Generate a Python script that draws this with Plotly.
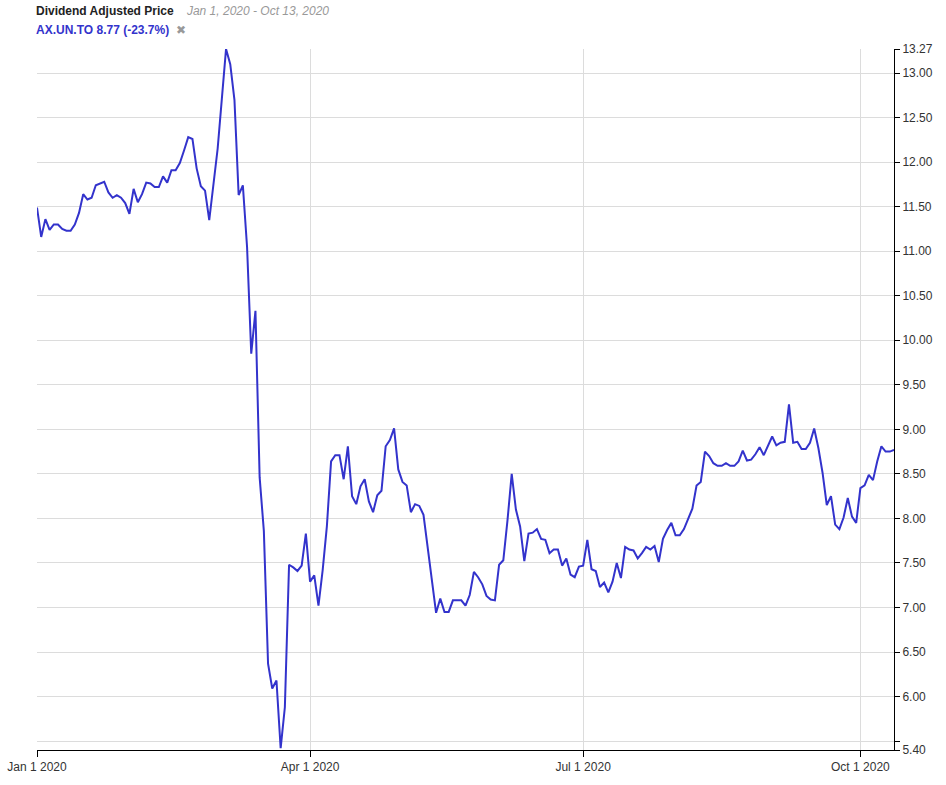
import plotly.graph_objects as go
import pandas as pd

# trading-day values (weekdays Jan 1 2020 .. Oct 13 2020)
dates = pd.bdate_range("2020-01-01", "2020-10-13")
prices = [
    11.49, 11.16, 11.36, 11.24, 11.30, 11.30, 11.25, 11.23, 11.23, 11.30,
    11.43, 11.64, 11.58, 11.60, 11.74, 11.76, 11.78, 11.66, 11.60, 11.63,
    11.60, 11.54, 11.42, 11.70, 11.55, 11.64, 11.77, 11.76, 11.72, 11.72,
    11.84, 11.77, 11.91, 11.91, 11.99, 12.13, 12.28, 12.26, 11.93, 11.73,
    11.68, 11.35, 11.73, 12.15, 12.71, 13.27, 13.10, 12.70, 11.63, 11.74,
    11.05, 9.85, 10.33, 8.46, 7.86, 6.37, 6.09, 6.18, 5.42, 5.88,
    7.48, 7.45, 7.41, 7.47, 7.83, 7.29, 7.36, 7.02, 7.42, 7.91,
    8.64, 8.71, 8.71, 8.44, 8.81, 8.25, 8.16, 8.36, 8.44, 8.19,
    8.07, 8.26, 8.31, 8.81, 8.88, 9.01, 8.55, 8.41, 8.37, 8.07,
    8.16, 8.14, 8.04, 7.68, 7.33, 6.94, 7.10, 6.95, 6.95, 7.08,
    7.08, 7.08, 7.02, 7.14, 7.40, 7.34, 7.26, 7.13, 7.09, 7.08,
    7.48, 7.53, 7.98, 8.50, 8.10, 7.91, 7.52, 7.83, 7.84, 7.88,
    7.77, 7.76, 7.61, 7.65, 7.65, 7.47, 7.55, 7.37, 7.34, 7.46,
    7.47, 7.76, 7.43, 7.41, 7.23, 7.28, 7.17, 7.29, 7.50, 7.33,
    7.68, 7.65, 7.64, 7.55, 7.61, 7.68, 7.65, 7.69, 7.51, 7.77,
    7.87, 7.95, 7.81, 7.81, 7.88, 8.00, 8.11, 8.37, 8.41, 8.75,
    8.70, 8.62, 8.59, 8.59, 8.62, 8.59, 8.59, 8.64, 8.76, 8.65,
    8.66, 8.72, 8.80, 8.71, 8.81, 8.92, 8.82, 8.85, 8.86, 9.28,
    8.85, 8.86, 8.78, 8.78, 8.85, 9.01, 8.79, 8.51, 8.15, 8.25,
    7.93, 7.88, 8.01, 8.23, 8.02, 7.95, 8.34, 8.37, 8.49, 8.43,
    8.64, 8.81, 8.75, 8.75, 8.77,
]

x_tick_dates = ["2020-01-01", "2020-04-01", "2020-07-01", "2020-10-01"]
x_tick_labels = ["Jan 1 2020", "Apr 1 2020", "Jul 1 2020", "Oct 1 2020"]
y_tick_vals = [5.40, 5.50, 6.00, 6.50, 7.00, 7.50, 8.00, 8.50, 9.00, 9.50,
               10.00, 10.50, 11.00, 11.50, 12.00, 12.50, 13.00, 13.27]
y_tick_labels = ["5.40", "", "6.00", "6.50", "7.00", "7.50", "8.00", "8.50", "9.00", "9.50",
                 "10.00", "10.50", "11.00", "11.50", "12.00", "12.50", "13.00", "13.27"]

line_color = "#3333cc"
font_family = "Liberation Sans, Arial, sans-serif"

fig = go.Figure(go.Scatter(
    x=dates,
    y=prices,
    mode="lines",
    line=dict(color=line_color, width=2),
    showlegend=False,
))

fig.update_layout(
    width=946,
    height=785,
    margin=dict(l=37, r=52, t=49, b=35),
    paper_bgcolor="white",
    plot_bgcolor="white",
    font=dict(family=font_family, size=12, color="#333333"),
    xaxis=dict(
        range=["2020-01-01", "2020-10-13"],
        rangebreaks=[dict(bounds=["sat", "mon"])],
        tickvals=x_tick_dates,
        ticktext=x_tick_labels,
        showgrid=True,
        gridcolor="#dcdcdc",
        showline=True,
        linecolor="black",
        linewidth=1,
        ticks="outside",
        ticklen=6,
        tickcolor="black",
        zeroline=False,
        automargin=False,
    ),
    yaxis=dict(
        side="right",
        range=[5.40, 13.27],
        tickvals=y_tick_vals,
        ticktext=y_tick_labels,
        showgrid=True,
        gridcolor="#dcdcdc",
        showline=True,
        linecolor="black",
        linewidth=1,
        ticks="outside",
        ticklen=5,
        tickcolor="black",
        zeroline=False,
        automargin=False,
    ),
    annotations=[
        dict(
            xref="paper", yref="paper", x=-0.003, y=1.054,
            xanchor="left", yanchor="middle", showarrow=False,
            text="<b>Dividend Adjusted Price</b>    "
                 "<i><span style='color:#999999'>Jan 1, 2020 - Oct 13, 2020</span></i>",
            font=dict(size=12, color="#222222"),
        ),
        dict(
            xref="paper", yref="paper", x=-0.003, y=1.027,
            xanchor="left", yanchor="middle", showarrow=False,
            text="<b>AX.UN.TO 8.77 (-23.7%)</b>  "
                 "<span style='color:#999999'>✖</span>",
            font=dict(size=12, color=line_color),
        ),
    ],
)

# drop the default 8px page margin so the figure sits at the window's corner
fig.write_html(
    "out.html",
    config={"displayModeBar": False},
    post_script="document.body.style.margin = '0';",
)
